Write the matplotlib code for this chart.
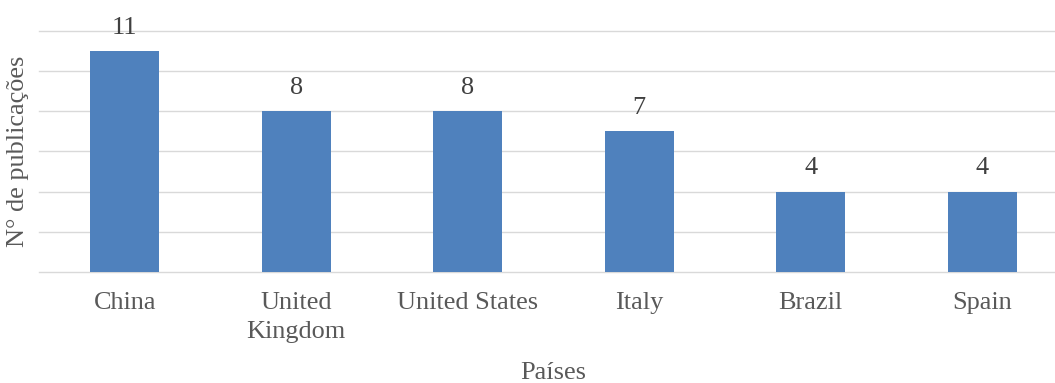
import matplotlib
matplotlib.use("Agg")
import matplotlib.pyplot as plt
import numpy as np

categories = ["China", "United\nKingdom", "United States", "Italy", "Brazil", "Spain"]
values = [11, 8, 8, 7, 4, 4]

W, H = 1055, 383
plt.rcParams['font.family'] = ['Liberation Serif', 'DejaVu Serif']
fs = 18.9
txt = '#595959'

fig = plt.figure(figsize=(W / 100, H / 100), dpi=100)
left, right = 39, 1068
top, bottom = 31.5, 271.5
ax = fig.add_axes([left / W, (H - bottom) / H, (right - left) / W, (bottom - top) / H])

x = np.arange(len(categories))
ax.bar(x, values, width=0.4, color='#4F81BD', zorder=3)
ax.set_xlim(-0.5, len(categories) - 0.5)
ax.set_ylim(0, 12)
ax.set_yticks(np.arange(0, 13, 2))
ax.yaxis.grid(True, color='#D9D9D9', linewidth=1.0, zorder=0)
for gl in ax.get_ygridlines():
    gl.set_clip_on(False)
ax.tick_params(axis='y', length=0, labelleft=False)
ax.set_xticks(x)
ax.set_xticklabels(categories, fontsize=fs, color=txt, linespacing=1.4)
ax.tick_params(axis='x', length=0, pad=15)
for s in ax.spines.values():
    s.set_visible(False)

for xi, v in zip(x, values):
    ax.annotate(str(v), (xi, v), xytext=(0, 12.6), textcoords='offset points',
                ha='center', va='baseline', fontsize=fs, color='#404040')

fig.text(((left + right) / 2) / W, (H - 379) / H, "Países", ha='center', va='baseline',
         fontsize=fs, color=txt)
fig.text(18 / W, (H - 151.5) / H, "N° de publicações", rotation=90, ha='center', va='center',
         fontsize=fs, color=txt)

fig.savefig("out.png", dpi=100)
